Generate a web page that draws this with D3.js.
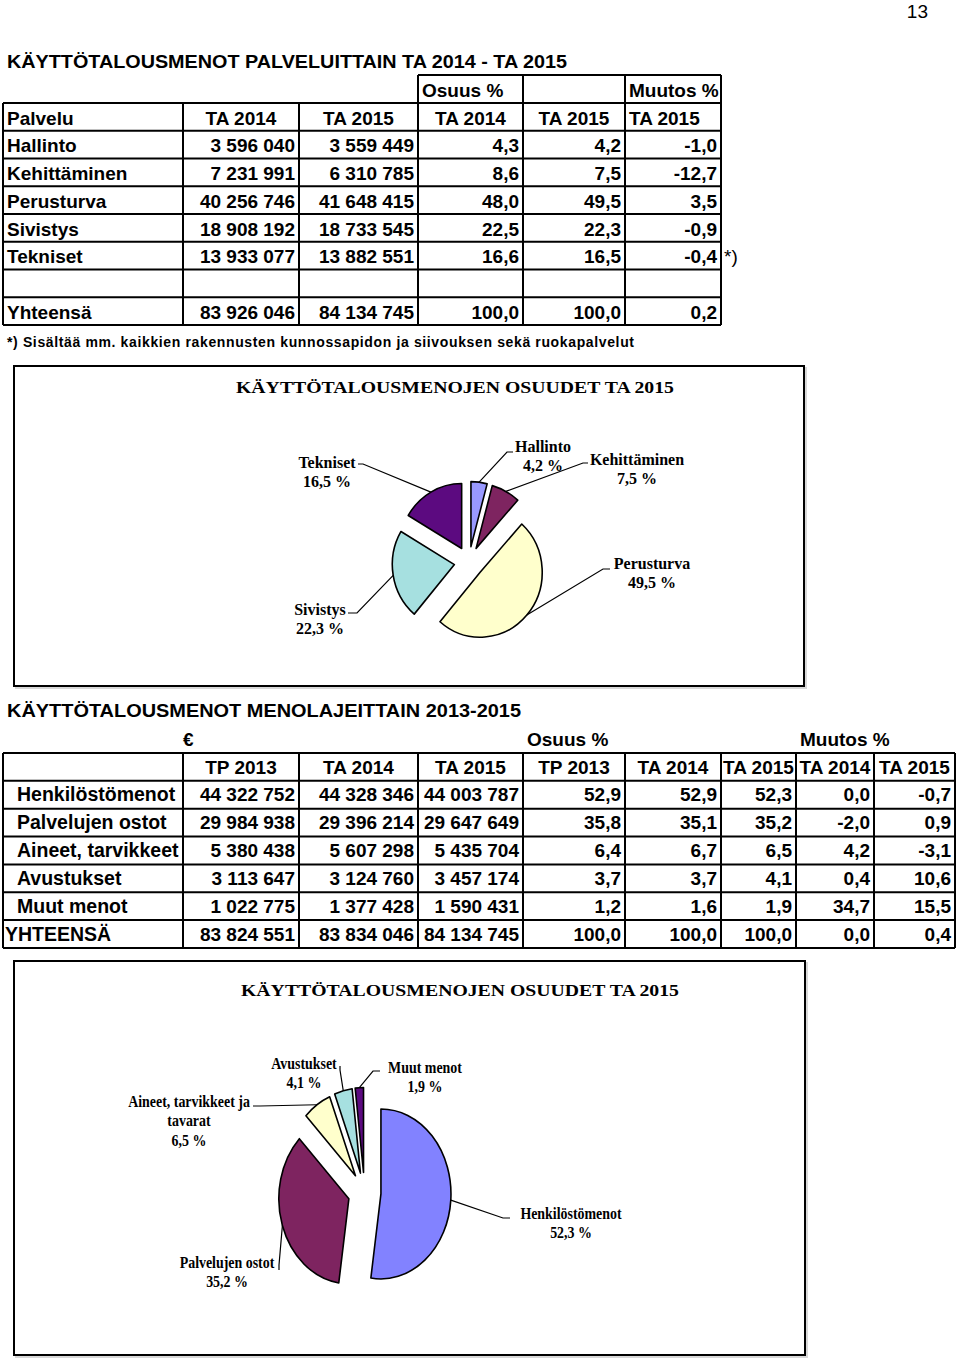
<!DOCTYPE html>
<html><head><meta charset="utf-8">
<script src="https://cdn.jsdelivr.net/npm/d3@7/dist/d3.min.js"></script>
<style>
body{margin:0;background:#fff;}
svg{display:block;}
.tb{font-family:"Liberation Sans",Arial,sans-serif;font-weight:bold;font-size:19px;fill:#000;}
.pl{font-family:"Liberation Serif","Times New Roman",serif;font-weight:bold;font-size:16px;fill:#000;}
</style>
</head><body>
<script>
// ---------- DATA ----------
const t1Services = ["Hallinto","Kehittäminen","Perusturva","Sivistys","Tekniset"];
const t1TA2014 = [3596040, 7231991, 40256746, 18908192, 13933077];
const t1TA2015 = [3559449, 6310785, 41648415, 18733545, 13882551];
const t1Share2014 = [4.3, 8.6, 48.0, 22.5, 16.6];
const t1Share2015 = [4.2, 7.5, 49.5, 22.3, 16.5];
const t1Change2015 = [-1.0, -12.7, 3.5, -0.9, -0.4];
const t1Total = [83926046, 84134745, 100.0, 100.0, 0.2];
const t1Headers = ["Palvelu","TA 2014","TA 2015","TA 2014","TA 2015","TA 2015"];

const t2Types = ["Henkilöstömenot","Palvelujen ostot","Aineet, tarvikkeet","Avustukset","Muut menot","YHTEENSÄ"];
const t2TP2013 = [44322752, 29984938, 5380438, 3113647, 1022775, 83824551];
const t2TA2014 = [44328346, 29396214, 5607298, 3124760, 1377428, 83834046];
const t2TA2015 = [44003787, 29647649, 5435704, 3457174, 1590431, 84134745];
const t2Share2013 = [52.9, 35.8, 6.4, 3.7, 1.2, 100.0];
const t2Share2014 = [52.9, 35.1, 6.7, 3.7, 1.6, 100.0];
const t2Share2015 = [52.3, 35.2, 6.5, 4.1, 1.9, 100.0];
const t2Change2014 = [0.0, -2.0, 4.2, 0.4, 34.7, 0.0];
const t2Change2015 = [-0.7, 0.9, -3.1, 10.6, 15.5, 0.4];
const t2Headers = ["","TP 2013","TA 2014","TA 2015","TP 2013","TA 2014","TA 2015","TA 2014","TA 2015"];

const pie1Labels = ["Hallinto","Kehittäminen","Perusturva","Sivistys","Tekniset"];
const pie1Colors = ["#9999ff","#7e2460","#ffffcc","#a6e0e0","#5c0a80"];
const pie2Labels = [["Henkilöstömenot"],["Palvelujen ostot"],["Aineet, tarvikkeet ja","tavarat"],["Avustukset"],["Muut menot"]];
const pie2Colors = ["#8282ff","#7e2460","#ffffcc","#a6e0e0","#5c0a80"];

// ---------- FORMAT ----------
const loc = d3.formatLocale({decimal:",", thousands:" ", grouping:[3], currency:["","€"], minus:"-"});
const fInt = loc.format(",d");
const fPct = loc.format(".1f");

const svg = d3.select("body").append("svg").attr("width",960).attr("height",1359);

// page number
svg.append("text").attr("x",928).attr("y",18).attr("text-anchor","end")
  .style("font-family","'Liberation Sans',Arial,sans-serif").style("font-size","19px").text("13");

function gridLines(g, xs, ys){
  ys.forEach(y=>g.append("line").attr("x1",xs[0]).attr("x2",xs[xs.length-1]).attr("y1",y).attr("y2",y));
  xs.forEach(x=>g.append("line").attr("x1",x).attr("x2",x).attr("y1",ys[0]).attr("y2",ys[ys.length-1]));
  g.selectAll("line").attr("stroke","#000").attr("stroke-width",2);
}
function cellText(g, txt, x0, x1, yTop, align, cls, base){
  let x = align==="left" ? x0+4 : align==="right" ? x1-4 : (x0+x1)/2;
  return g.append("text").attr("class",cls||"tb").attr("x",x).attr("y",yTop+base)
    .attr("text-anchor",align==="left"?"start":align==="right"?"end":"middle").text(txt);
}

// ---------- TABLE 1 ----------
const T1 = svg.append("g");
T1.append("text").attr("class","tb").attr("x",7).attr("y",68).attr("textLength",560).attr("lengthAdjust","spacingAndGlyphs")
  .text("KÄYTTÖTALOUSMENOT PALVELUITTAIN TA 2014 - TA 2015");
const c1 = [3,183,299,418,523,625,721];
const r1Top = 103, r1H = 27.75;
const r1ys = d3.range(9).map(i=>r1Top+i*r1H);
gridLines(T1, c1, r1ys);
const T1b = T1.append("g");
gridLines(T1b, [418,523,625,721], [75,103]);
cellText(T1, "Osuus %", 418, 523, 75, "left", "tb", 21.7);
cellText(T1, "Muutos %", 625, 721, 75, "left", "tb", 21.7);
t1Headers.forEach((h,i)=>cellText(T1,h,c1[i],c1[i+1],r1ys[0],i===0||i===5?"left":"middle","tb",21.5));
t1Services.forEach((s,r)=>{
  const y = r1ys[r+1];
  const vals = [s, fInt(t1TA2014[r]), fInt(t1TA2015[r]), fPct(t1Share2014[r]), fPct(t1Share2015[r]), fPct(t1Change2015[r])];
  vals.forEach((v,i)=>cellText(T1,v,c1[i],c1[i+1],y,i===0?"left":"right","tb",21.7));
});
{
  const y = r1ys[7];
  const vals = ["Yhteensä", fInt(t1Total[0]), fInt(t1Total[1]), fPct(t1Total[2]), fPct(t1Total[3]), fPct(t1Total[4])];
  vals.forEach((v,i)=>cellText(T1,v,c1[i],c1[i+1],y,i===0?"left":"right","tb",21.7));
}
T1.append("text").attr("x",724).attr("y",r1ys[5]+21.7)
  .style("font-family","'Liberation Sans',Arial,sans-serif").style("font-size","19px").text("*)");
T1.append("text").attr("class","tb").style("font-size","14px").attr("x",7).attr("y",347)
  .attr("textLength",627).attr("lengthAdjust","spacing")
  .text("*) Sisältää mm. kaikkien rakennusten kunnossapidon ja siivouksen sekä ruokapalvelut");

// ---------- PIE helper ----------
function drawPie(cfg){
  const g = svg.append("g");
  g.append("rect").attr("x",cfg.box[0]+2).attr("y",cfg.box[1]+2).attr("width",cfg.box[2]).attr("height",cfg.box[3])
    .attr("fill","none").attr("stroke","#d8d8d8").attr("stroke-width",2);
  g.append("rect").attr("x",cfg.box[0]).attr("y",cfg.box[1]).attr("width",cfg.box[2]).attr("height",cfg.box[3])
    .attr("fill","#fff").attr("stroke","#000").attr("stroke-width",2);
  g.append("text").attr("class","pl").style("font-size","17px").attr("x",cfg.title[0]).attr("y",cfg.title[1])
    .attr("textLength",438).attr("lengthAdjust","spacingAndGlyphs").text("KÄYTTÖTALOUSMENOJEN OSUUDET TA 2015");
  const arcs = d3.pie().sort(null).value(d=>d)(cfg.values);
  const arcGen = d3.arc().innerRadius(0).outerRadius(cfg.r);
  const pg = g.append("g").attr("transform",`translate(${cfg.cx},${cfg.cy}) scale(${cfg.sx},1)`);
  const mid = d=>(d.startAngle+d.endAngle)/2;
  pg.selectAll("path").data(arcs).join("path")
    .attr("transform",d=>`translate(${cfg.explode*Math.sin(mid(d))},${-cfg.explode*Math.cos(mid(d))})`)
    .attr("d",arcGen).attr("fill",(d,i)=>cfg.colors[i])
    .attr("stroke","#000").attr("stroke-width",1.6).attr("vector-effect","non-scaling-stroke")
    .attr("stroke-linejoin","round");
  arcs.forEach((d,i)=>{
    const m = mid(d), R = cfg.explode+cfg.r;
    const p = [cfg.cx+cfg.sx*R*Math.sin(m), cfg.cy-R*Math.cos(m)];
    const L = cfg.layout[i];
    const pts = L.line.concat([p]);
    g.append("path").attr("d",d3.line()(pts)).attr("fill","none").attr("stroke","#000").attr("stroke-width",1.2);
    const lines = cfg.labels[i].concat([fPct(cfg.values[i])+" %"]);
    const tg = g.append("g").attr("transform",`translate(${L.tx},${L.ty}) scale(${cfg.ts},1)`);
    lines.forEach((t,k)=>tg.append("text").attr("class","pl").attr("x",0).attr("y",k*19.3).attr("text-anchor","middle").text(t));
  });
}

drawPie({
  box:[14,366,790,320], title:[236,393],
  values:t1Share2015, colors:pie1Colors, labels:pie1Labels.map(s=>[s]),
  cx:469, cy:562, r:65, sx:0.955, explode:15.5, ts:1,
  layout:[
    {tx:543, ty:452, line:[[513,452],[507,452]]},
    {tx:637, ty:465, line:[[588,463],[583,463]]},
    {tx:652, ty:569, line:[[610,569],[603,569]]},
    {tx:320, ty:615, line:[[348,613],[357,613]]},
    {tx:327, ty:468, line:[[358,464],[363,464]]}
  ]
});

// ---------- TABLE 2 ----------
const T2 = svg.append("g");
T2.append("text").attr("class","tb").attr("x",7).attr("y",717).attr("textLength",514).attr("lengthAdjust","spacingAndGlyphs")
  .text("KÄYTTÖTALOUSMENOT MENOLAJEITTAIN  2013-2015");
T2.append("text").attr("class","tb").attr("x",183).attr("y",746).text("€");
T2.append("text").attr("class","tb").attr("x",527).attr("y",746).text("Osuus %");
T2.append("text").attr("class","tb").attr("x",800).attr("y",746).text("Muutos %");
const c2 = [3,183,299,418,523,625,721,796,874,955];
const r2Top = 753, r2H = 27.85;
const r2ys = d3.range(8).map(i=>r2Top+i*r2H);
gridLines(T2, c2, r2ys);
t2Headers.forEach((h,i)=>{ if(h) cellText(T2,h,c2[i],c2[i+1],r2ys[0],"middle","tb",20.5); });
t2Types.forEach((s,r)=>{
  const y = r2ys[r+1];
  const vals = [fInt(t2TP2013[r]), fInt(t2TA2014[r]), fInt(t2TA2015[r]), fPct(t2Share2013[r]), fPct(t2Share2014[r]), fPct(t2Share2015[r]), fPct(t2Change2014[r]), fPct(t2Change2015[r])];
  T2.append("text").attr("class","tb").style("font-size","19.5px").attr("x", r===t2Types.length-1 ? 5 : 17).attr("y",y+20.5).text(s);
  vals.forEach((v,i)=>cellText(T2,v,c2[i+1],c2[i+2],y,"right","tb",20.5));
});

drawPie({
  box:[14,961,791,394], title:[241,996],
  values:t2Share2015.slice(0,5), colors:pie2Colors, labels:pie2Labels,
  cx:364.5, cy:1192.5, r:85, sx:0.824, explode:20, ts:0.87,
  layout:[
    {tx:571, ty:1219, line:[[510,1218],[503,1218]]},
    {tx:227, ty:1268, line:[[279,1270],[279,1265]]},
    {tx:189, ty:1107, line:[[253,1106],[260,1106]]},
    {tx:304, ty:1069, line:[[340,1066],[340,1070]]},
    {tx:425, ty:1073, line:[[380,1071],[373,1071]]}
  ]
});
</script>
</body></html>
